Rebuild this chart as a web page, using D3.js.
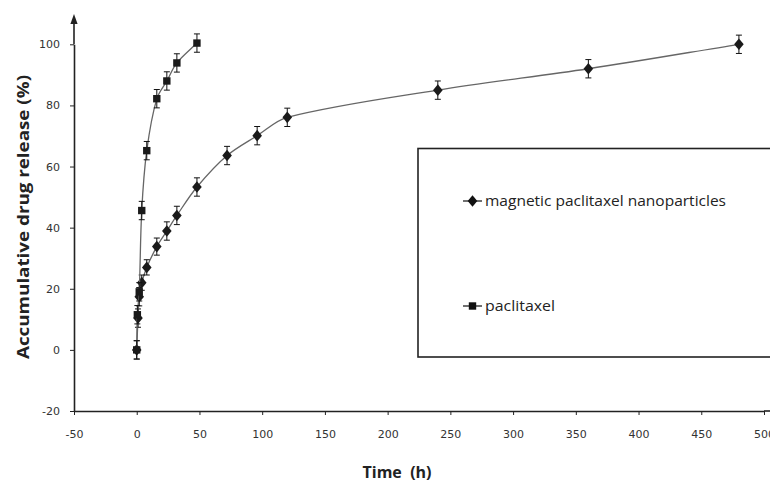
<!DOCTYPE html>
<html>
<head>
<meta charset="utf-8">
<script src="https://cdn.jsdelivr.net/npm/d3@7"></script>
<style>
  body { margin: 0; background: #fff; }
  svg { display: block; }
</style>
</head>
<body>
<script>
// release data (time in h, release in %)
var nanoTime = [0, 1, 2, 4, 8, 16, 24, 32, 48, 72, 96, 120, 240, 360, 480];
var nanoRelease = [0, 10.4, 17.4, 22, 27, 33.8, 38.9, 44, 53.3, 63.6, 70.1, 76.1, 85, 92, 100];
var nanoErr = [3, 3, 3, 2.5, 2.5, 2.8, 3, 3, 3, 3, 3, 3, 3, 3, 3];

var paxTime = [0, 0.5, 2, 4, 8, 16, 24, 32, 48];
var paxRelease = [0, 11.5, 19, 45.6, 65.2, 82.2, 88, 93.9, 100.4];
var paxErr = [3, 3, 3, 3, 3, 3, 3, 3, 3];

var xTicks = [-50, 0, 50, 100, 150, 200, 250, 300, 350, 400, 450, 500];
var yTicks = [-20, 0, 20, 40, 60, 80, 100];
var seriesNames = ["magnetic paclitaxel nanoparticles", "paclitaxel"];

var width = 770, height = 484;

var svg = d3.select("body").append("svg")
    .attr("width", width)
    .attr("height", height);

var x = d3.scaleLinear().domain([-50, 500]).range([74, 764]);
var y = d3.scaleLinear().domain([-20, 100]).range([411, 44.3]);

function zipSeries(t, v, e) {
  return t.map(function(d, i) { return {t: d, v: v[i], e: e[i]}; });
}
var nano = zipSeries(nanoTime, nanoRelease, nanoErr);
var pax = zipSeries(paxTime, paxRelease, paxErr);

// plain hyphen for negatives, like the original
var plain = function(d) { return String(d); };

// axes
var xAxis = svg.append("g")
    .attr("transform", "translate(0," + y(-20) + ")")
    .call(d3.axisBottom(x).tickValues(xTicks).tickFormat(plain)
      .tickSize(4).tickSizeOuter(0).tickPadding(15));
var yAxis = svg.append("g")
    .attr("transform", "translate(" + x(-50) + ",0)")
    .call(d3.axisLeft(y).tickValues(yTicks).tickFormat(plain)
      .tickSize(4).tickSizeOuter(0).tickPadding(10));

[xAxis, yAxis].forEach(function(a) {
  a.select(".domain").attr("stroke", "#222").attr("stroke-width", 1.6);
  a.selectAll(".tick line").attr("stroke", "#222").attr("stroke-width", 1);
  a.selectAll(".tick text")
    .attr("fill", "#333")
    .style("font-family", "'DejaVu Sans', sans-serif")
    .style("font-size", "11px");
});

// axis extensions: y axis up to an arrow, x axis a little past 500
svg.append("line")
    .attr("x1", x(-50)).attr("x2", x(-50))
    .attr("y1", y(100)).attr("y2", 22)
    .attr("stroke", "#222").attr("stroke-width", 1.6);
svg.append("path")
    .attr("d", "M" + x(-50) + ",14 L" + (x(-50) - 3.6) + ",24 L" + (x(-50) + 3.6) + ",24 Z")
    .attr("fill", "#222");
svg.append("line")
    .attr("x1", x(500)).attr("x2", 770)
    .attr("y1", y(-20)).attr("y2", y(-20))
    .attr("stroke", "#222").attr("stroke-width", 1.6);

// axis titles
svg.append("text")
    .attr("transform", "translate(29," + 217 + ") rotate(-90)")
    .attr("text-anchor", "middle")
    .attr("textLength", 284)
    .attr("lengthAdjust", "spacingAndGlyphs")
    .style("font-family", "'Open Sans', sans-serif")
    .style("font-weight", "bold")
    .style("font-size", "16px")
    .attr("fill", "#222")
    .text("Accumulative drug release (%)");

svg.append("text")
    .attr("x", 397).attr("y", 478)
    .attr("text-anchor", "middle")
    .style("white-space", "pre")
    .style("font-family", "'Open Sans', sans-serif")
    .style("font-weight", "bold")
    .style("font-size", "16px")
    .attr("fill", "#222")
    .text("Time  (h)");

// spreadsheet-style smoothing: tangent along the neighbours, handle length
// proportional to each segment so long flat stretches stay nearly straight
function smoothPath(data) {
  var pts = data.map(function(d) { return [x(d.t), y(d.v)]; });
  var n = pts.length;
  var dirs = pts.map(function(q, k) {
    var a = pts[Math.max(k - 1, 0)], b = pts[Math.min(k + 1, n - 1)];
    var dx = b[0] - a[0], dy = b[1] - a[1], l = Math.hypot(dx, dy) || 1;
    return [dx / l, dy / l];
  });
  var p = d3.path();
  p.moveTo(pts[0][0], pts[0][1]);
  for (var i = 0; i < n - 1; i++) {
    var a = pts[i], b = pts[i + 1];
    var L = Math.hypot(b[0] - a[0], b[1] - a[1]) * 0.33;
    p.bezierCurveTo(a[0] + dirs[i][0] * L, a[1] + dirs[i][1] * L,
                    b[0] - dirs[i + 1][0] * L, b[1] - dirs[i + 1][1] * L,
                    b[0], b[1]);
  }
  return p.toString();
}

function drawSeries(data, marker) {
  svg.append("path")
      .attr("fill", "none")
      .attr("stroke", "#666")
      .attr("stroke-width", 1.3)
      .attr("d", smoothPath(data));

  var eb = svg.append("g").attr("stroke", "#111").attr("stroke-width", 1);
  data.forEach(function(d) {
    var cx = x(d.t);
    eb.append("line").attr("x1", cx).attr("x2", cx).attr("y1", y(d.v - d.e)).attr("y2", y(d.v + d.e));
    eb.append("line").attr("x1", cx - 3).attr("x2", cx + 3).attr("y1", y(d.v - d.e)).attr("y2", y(d.v - d.e));
    eb.append("line").attr("x1", cx - 3).attr("x2", cx + 3).attr("y1", y(d.v + d.e)).attr("y2", y(d.v + d.e));
  });

  svg.append("g").selectAll("path")
      .data(data)
      .enter().append("path")
      .attr("transform", function(d) { return "translate(" + x(d.t) + "," + y(d.v) + ")"; })
      .attr("d", marker)
      .attr("fill", "#1a1a1a");
}

var diamond = "M0,-5.8 L4.8,0 L0,5.8 L-4.8,0 Z";
var square = "M-3.7,-3.7 H3.7 V3.7 H-3.7 Z";

drawSeries(nano, diamond);
drawSeries(pax, square);

// legend box
svg.append("rect")
    .attr("x", 418).attr("y", 148.5)
    .attr("width", 360).attr("height", 208.5)
    .attr("fill", "none")
    .attr("stroke", "#222")
    .attr("stroke-width", 1.6);

var legend = svg.append("g").selectAll("g")
    .data([{name: seriesNames[0], marker: diamond, y: 201},
           {name: seriesNames[1], marker: square, y: 306}])
    .enter().append("g")
    .attr("transform", function(d) { return "translate(0," + d.y + ")"; });

legend.append("line")
    .attr("x1", 463).attr("x2", 482)
    .attr("stroke", "#222").attr("stroke-width", 1.3);
legend.append("path")
    .attr("transform", "translate(472.5,0)")
    .attr("d", function(d) { return d.marker; })
    .attr("fill", "#111");
legend.append("text")
    .attr("x", 485).attr("y", 5)
    .style("font-family", "'Open Sans', sans-serif")
    .style("font-size", "14px")
    .attr("fill", "#222")
    .attr("textLength", function(d, i) { return i === 0 ? 241 : 70; })
    .attr("lengthAdjust", "spacingAndGlyphs")
    .text(function(d) { return d.name; });
</script>
</body>
</html>
